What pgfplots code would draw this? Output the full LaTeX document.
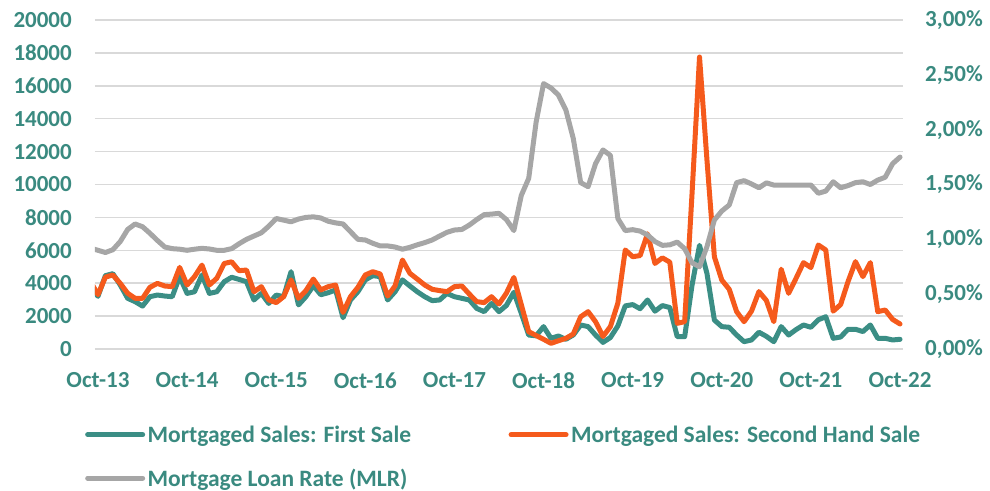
\documentclass[border=0pt]{standalone}
\usepackage{pgfplots}
\usepackage{pgfplotstable}
\pgfplotsset{compat=1.18}
\usepackage{fontspec}
\setmainfont{Carlito}
\definecolor{tealc}{RGB}{59,142,133}
\definecolor{orangec}{RGB}{245,90,28}
\definecolor{grayc}{RGB}{166,166,166}
\definecolor{gridc}{RGB}{217,217,217}
\definecolor{textc}{RGB}{58,138,128}

\pgfplotstableread{
i first second mlr
-1 3900 4100 0.92
0 3200 3300 0.90
1 4460 4370 0.88
2 4580 4500 0.905
3 3890 3990 0.98
4 3080 3390 1.09
5 2880 3080 1.14
6 2610 3080 1.115
7 3180 3750 1.055
8 3280 3990 0.99
9 3220 3830 0.93
10 3180 3790 0.915
11 4400 4960 0.91
12 3380 3890 0.90
13 3480 4400 0.91
14 4500 5100 0.918
15 3380 3890 0.912
16 3480 4300 0.90
17 4090 5200 0.90
18 4360 5300 0.915
19 4230 4760 0.96
20 4090 4800 1.0
21 2980 3480 1.03
22 3380 3790 1.06
23 2770 2980 1.12
24 3280 2820 1.19
25 3180 3180 1.175
26 4700 4200 1.16
27 2680 3080 1.185
28 3180 3550 1.20
29 3850 4250 1.205
30 3300 3590 1.195
31 3420 3790 1.165
32 3590 3890 1.15
33 1900 2220 1.14
34 2980 3180 1.07
35 3480 3750 1.0
36 4200 4500 0.994
37 4460 4700 0.964
38 4400 4560 0.94
39 2980 3220 0.94
40 3480 3830 0.93
41 4200 5410 0.91
42 3830 4600 0.927
43 3480 4250 0.95
44 3180 3890 0.97
45 2940 3630 0.994
46 2980 3550 1.03
47 3380 3485 1.064
48 3180 3790 1.085
49 3080 3830 1.09
50 2980 3340 1.13
51 2470 2880 1.18
52 2270 2820 1.225
53 2770 3180 1.23
54 2270 2735 1.237
55 2650 3400 1.18
56 3450 4350 1.08
57 2170 2700 1.40
58 850 1050 1.556
59 800 820 2.07
60 1360 590 2.42
61 650 345 2.38
62 790 500 2.316
63 590 650 2.18
64 850 910 1.92
65 1460 1960 1.517
66 1360 2270 1.48
67 850 1660 1.69
68 400 760 1.815
69 700 1360 1.765
70 1400 2780 1.19
71 2620 6020 1.08
72 2700 5610 1.088
73 2450 5680 1.075
74 2980 7000 1.04
75 2300 5200 0.98
76 2640 5540 0.945
77 2520 5280 0.95
78 750 1560 0.975
79 750 1660 0.915
80 3900 9500 0.785
81 6300 17750 0.75
82 4600 11500 0.933
83 1760 5610 1.176
84 1360 4190 1.258
85 1320 3630 1.313
86 850 2270 1.517
87 445 1660 1.535
88 550 2300 1.505
89 1020 3490 1.47
90 770 2950 1.515
91 445 1660 1.495
92 1360 4850 1.495
93 850 3385 1.495
94 1180 4300 1.495
95 1460 5250 1.495
96 1320 4950 1.495
97 1780 6320 1.42
98 1960 6020 1.44
99 650 2300 1.525
100 730 2700 1.47
101 1200 4100 1.49
102 1200 5310 1.517
103 1060 4400 1.525
104 1460 5250 1.50
105 650 2270 1.54
106 650 2370 1.566
107 550 1800 1.69
108 590 1520 1.75
}\datatable

\begin{document}
\begin{tikzpicture}
\useasboundingbox (-95bp,-142bp) rectangle (895bp,349bp);
\pgfplotsset{
  every axis/.append style={
    scale only axis, width=808bp, height=329bp,
    at={(0,0)}, anchor=south west,
    xmin=-0.4, xmax=108.4,
    tick style={draw=none},
    axis line style={draw=none},
    tick label style={font=\fontsize{23bp}{27bp}\selectfont\bfseries, text=textc, inner sep=0pt},
    /pgf/number format/assume math mode=true,
    /pgf/number format/1000 sep={},
    scaled y ticks=false,
  },
  mline/.style={line width=5bp, line join=round, line cap=round},
}
\begin{axis}[
  axis x line*=bottom, axis y line*=left,
  ymin=0, ymax=20000,
  ytick={0,2000,...,20000},
  ymajorgrids, grid style={draw=gridc, line width=1.5bp},
  xtick={0,12,...,108},
  xticklabels={Oct-13,Oct-14,Oct-15,Oct-16,Oct-17,Oct-18,Oct-19,Oct-20,Oct-21,Oct-22},
  xticklabel style={anchor=north, yshift=-23.5bp},
  yticklabel style={anchor=east, xshift=-23bp},
  legend columns=2,
  legend cell align=left,
  legend image code/.code={\draw[#1] (0bp,0bp) -- (55bp,0bp);},
  legend style={at={(axis description cs:-0.0124,-0.225)}, anchor=north west,
    draw=none, fill=none, inner sep=0pt, row sep=20bp,
    font=\fontsize{23.5bp}{27bp}\selectfont\bfseries, text=textc,
    nodes={inner sep=2.5bp},
    /tikz/every even column/.append style={column sep=95bp}},
]
\addplot[mline, tealc] table[x=i, y=first] {\datatable};
\addlegendentry{Mortgaged Sales: First Sale}
\addplot[mline, orangec] table[x=i, y=second] {\datatable};
\addlegendentry{Mortgaged Sales: Second Hand Sale}
\addlegendimage{mline, grayc}
\addlegendentry{Mortgage Loan Rate (MLR)}
\end{axis}
\begin{axis}[
  axis y line*=right, axis x line=none,
  ymin=0, ymax=3,
  ytick={0,0.5,1,1.5,2,2.5,3},
  yticklabels={0{,}00\%,0{,}50\%,1{,}00\%,1{,}50\%,2{,}00\%,2{,}50\%,3{,}00\%},
  yticklabel style={anchor=west, xshift=22bp},
  xtick=\empty,
]
\addplot[mline, grayc] table[x=i, y=mlr] {\datatable};
\end{axis}
\end{tikzpicture}
\end{document}
